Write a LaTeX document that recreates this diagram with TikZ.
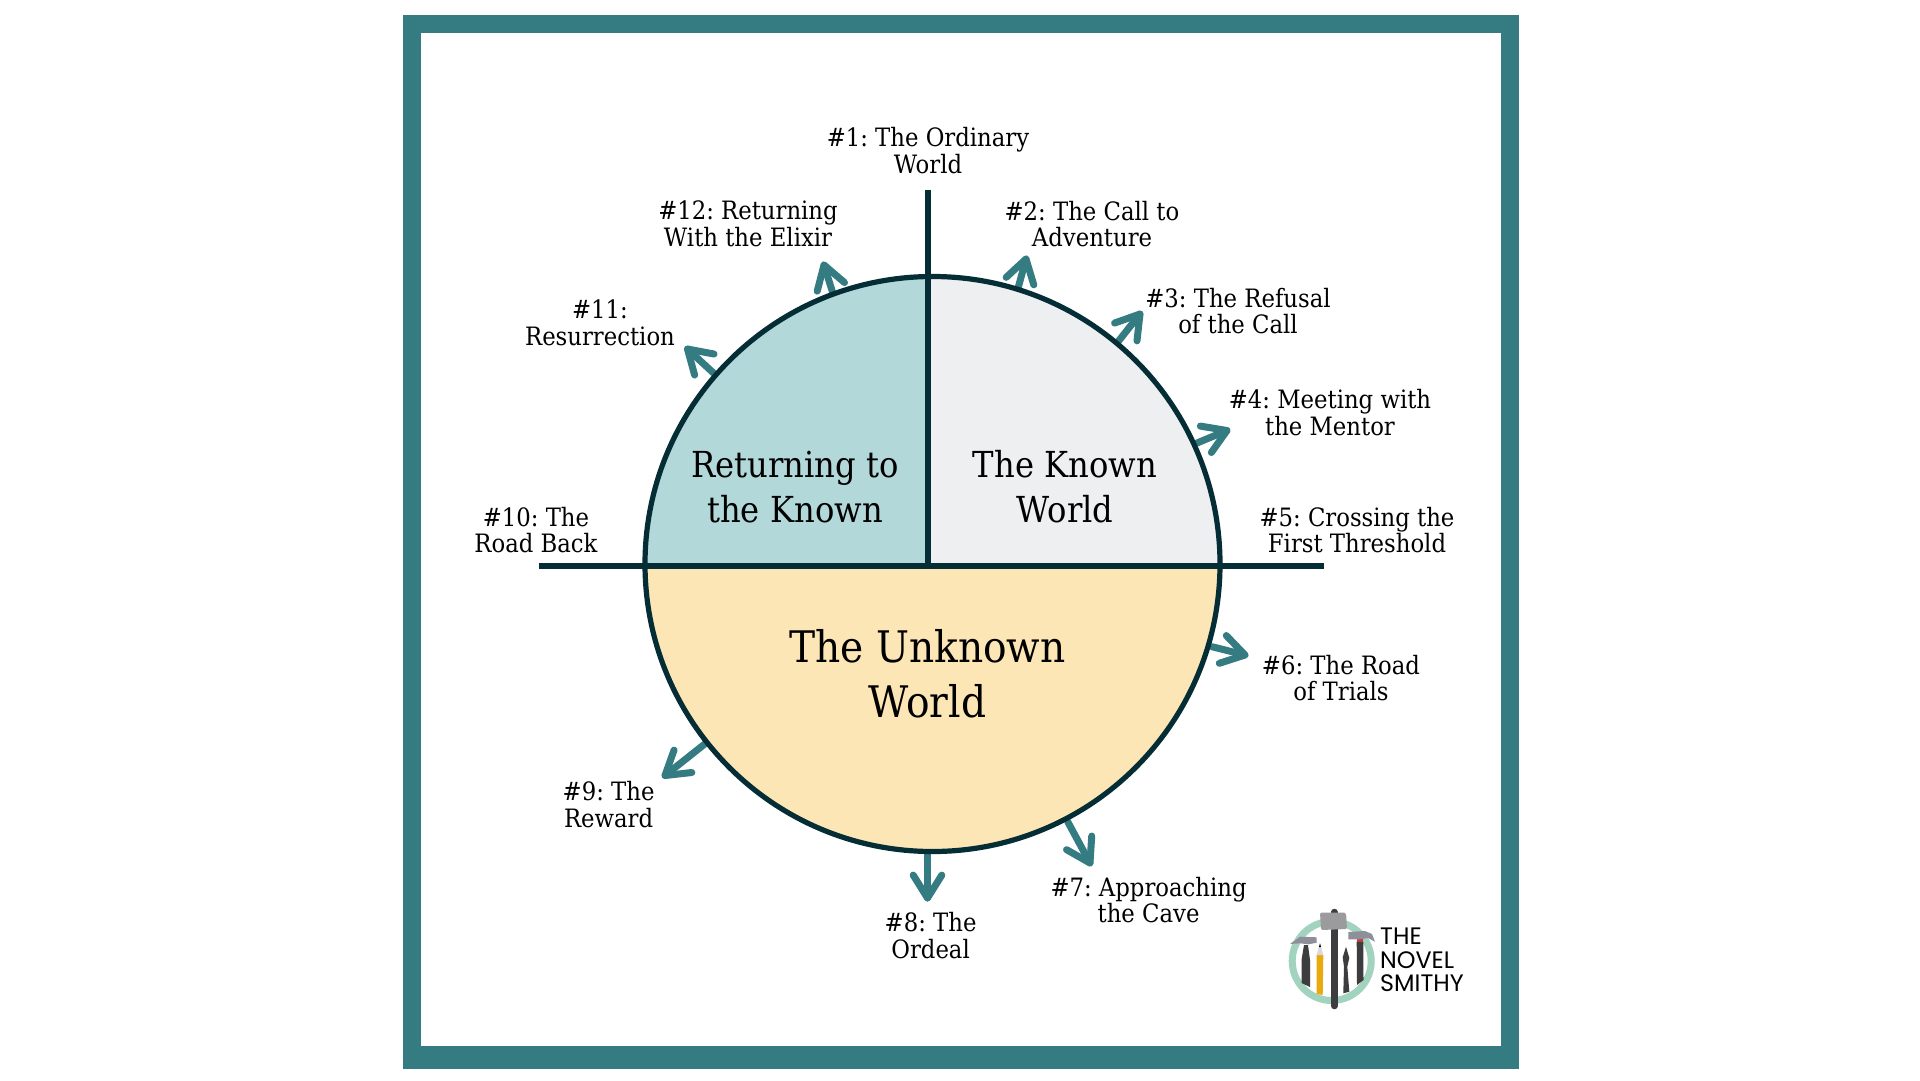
\documentclass[tikz,border=0pt]{standalone}
\usepackage{fontspec}
\setmainfont[FakeStretch=0.9]{DejaVu Serif}
\newfontfamily\logofont{Poppins}
\usetikzlibrary{calc}
\definecolor{frameteal}{HTML}{357C82}
\definecolor{darkline}{HTML}{052D35}
\definecolor{quadgrey}{HTML}{EEEFF1}
\definecolor{quadblue}{HTML}{B2D8DA}
\definecolor{quadyellow}{HTML}{FDE6B5}
\definecolor{ringgreen}{HTML}{A2D3BE}
\definecolor{toolgrey}{HTML}{3D3D3F}
\definecolor{headgrey}{HTML}{9B9B9E}
\definecolor{hammergrey}{HTML}{8F8F9A}
\definecolor{pencilyellow}{HTML}{E9A90F}
\newcommand{\tealarrow}[2]{%
  \coordinate (ba) at ($(#2)!27pt!32:(#1)$);
  \coordinate (bb) at ($(#2)!27pt!-32:(#1)$);
  \draw[arrowline] (#1) -- (#2);
  \draw[arrowline] (ba) -- (#2) -- (bb);
}
\tikzset{
  arrowline/.style={draw=frameteal,line width=7pt,line cap=round,line join=round},
  stage/.style={align=center,font=\frenchspacing\fontsize{25.3}{26.5}\selectfont,inner sep=0pt},
  midworld/.style={align=center,font=\frenchspacing\fontsize{35.8}{45}\selectfont,inner sep=0pt},
  bigworld/.style={align=center,font=\frenchspacing\fontsize{43.5}{55.5}\selectfont,inner sep=0pt},
  axisline/.style={draw=darkline,line width=6pt},
  logotext/.style={anchor=base west,inner sep=0pt,font=\logofont\fontsize{23.8}{24}\selectfont}
}
\begin{document}
\begin{tikzpicture}[x=1pt,y=-1pt]
\useasboundingbox (0,0) rectangle (1920,1080);
\fill[white] (0,0) rectangle (1920,1080);
% frame
\fill[frameteal] (403,15) rectangle (1519,1069);
\fill[white] (421,33) rectangle (1501,1046);
% coordinates
\coordinate (ctr) at (932.5,564);
\coordinate (cross) at (927.5,566);
\foreach \n/\sx/\sy/\tx/\ty in {
 two/1017/292/1026/259, three/1117/343/1140/314, four/1197/443/1227/430.5,
 six/1212/646.7/1245/655, seven/1067.7/821.7/1090/863, eight/927.5/852/927.5/898,
 nine/706/743/665/775.5, eleven/713.8/373.3/687.5/349, twelve/832.4/291.7/824/265}{
  \coordinate (s\n) at (\sx,\sy);
  \coordinate (t\n) at (\tx,\ty);
  \tealarrow{s\n}{t\n}
}
% quadrants
\begin{scope}
  \clip (ctr) circle[radius=287.5];
  \fill[quadgrey] (927.5,566) rectangle (1230,270);
  \fill[quadblue] (927.5,566) rectangle (640,270);
  \fill[quadyellow] (640,566) rectangle (1230,860);
\end{scope}
\draw[draw=darkline,line width=5.2pt] (ctr) circle[radius=287.5];
% axes
\coordinate (topend) at (927.5,190);
\coordinate (leftend) at (539,566);
\coordinate (rightend) at (1324,566);
\draw[axisline] (topend) -- (cross);
\draw[axisline] (leftend) -- (rightend);
% region labels
\node[midworld] (retk) at (795,487) {Returning to\\the Known};
\node[midworld] (knw) at (1065,487) {The Known\\World};
\node[bigworld] (unk) at (927.5,674) {The Unknown\\World};
% stage labels
\node[stage] (l1) at (928,150.6) {\#1: The Ordinary\\World};
\node[stage] (l2) at (1092,224) {\#2: The Call to\\Adventure};
\node[stage] (l3) at (1238,311) {\#3: The Refusal\\of the Call};
\node[stage] (l4) at (1330,412.7) {\#4: Meeting with\\the Mentor};
\node[stage] (l5) at (1357,530) {\#5: Crossing the\\First Threshold};
\node[stage] (l6) at (1341,678) {\#6: The Road\\of Trials};
\node[stage] (l7) at (1148.6,900) {\#7: Approaching\\the Cave};
\node[stage] (l8) at (930.6,935.5) {\#8: The\\Ordeal};
\node[stage] (l9) at (608.6,804.5) {\#9: The\\Reward};
\node[stage] (l10) at (536,530) {\#10: The\\Road Back};
\node[stage] (l11) at (600,323) {\#11:\\Resurrection};
\node[stage] (l12) at (748,224) {\#12: Returning\\With the Elixir};
% logo
\draw[ringgreen,line width=7pt] (1331.7,961) circle[radius=39.5];
% left hammer
\fill[toolgrey] (1304,945) -- (1308,945) -- (1310,960) -- (1310,987) -- (1301.5,983) -- (1301.5,960) -- cycle;
\fill[hammergrey] (1290,944) -- (1300,936.7) -- (1316.7,937.3) -- (1316.7,942.7) -- (1308.3,944.3) -- (1300,943.3) -- cycle;
% pencil
\fill[pencilyellow] (1316.7,955) -- (1323.3,955) -- (1322.7,995) -- (1316.7,994) -- cycle;
\fill[black!15] (1316.7,955) -- (1320,943.3) -- (1323.3,955) -- cycle;
\fill[black] (1319,947) -- (1320,943.3) -- (1321,947) -- cycle;
% nib
\fill[toolgrey] (1346,946.7) -- (1349.3,958) -- (1347.3,966.7) -- (1349.3,991.7) -- (1343.3,993.3) -- (1344,966.7) -- (1342.7,957.3) -- cycle;
% right hammer
\fill[toolgrey] (1356.7,941.7) -- (1363.3,941.7) -- (1363.5,980) -- (1357,985) -- cycle;
\fill[red!55!gray] (1356.5,939) rectangle (1363,942);
\fill[hammergrey] (1348.3,932) -- (1365,931) -- (1372,934) -- (1375,941.7) -- (1368,938) -- (1359,939.5) -- (1348.3,939.3) -- cycle;
% mallet
\draw[toolgrey,line width=6.5pt,line cap=round] (1334.3,912) -- (1334.3,1006);
\fill[headgrey,rounded corners=2pt] (1320,912.5) -- (1346,912.5) -- (1347,929) -- (1321,930) -- cycle;
\node[logotext] (lg1) at (1380,944) {THE};
\node[logotext] (lg2) at (1380,968) {NOVEL};
\node[logotext] (lg3) at (1380,991) {SMITHY};
\end{tikzpicture}
\end{document}
